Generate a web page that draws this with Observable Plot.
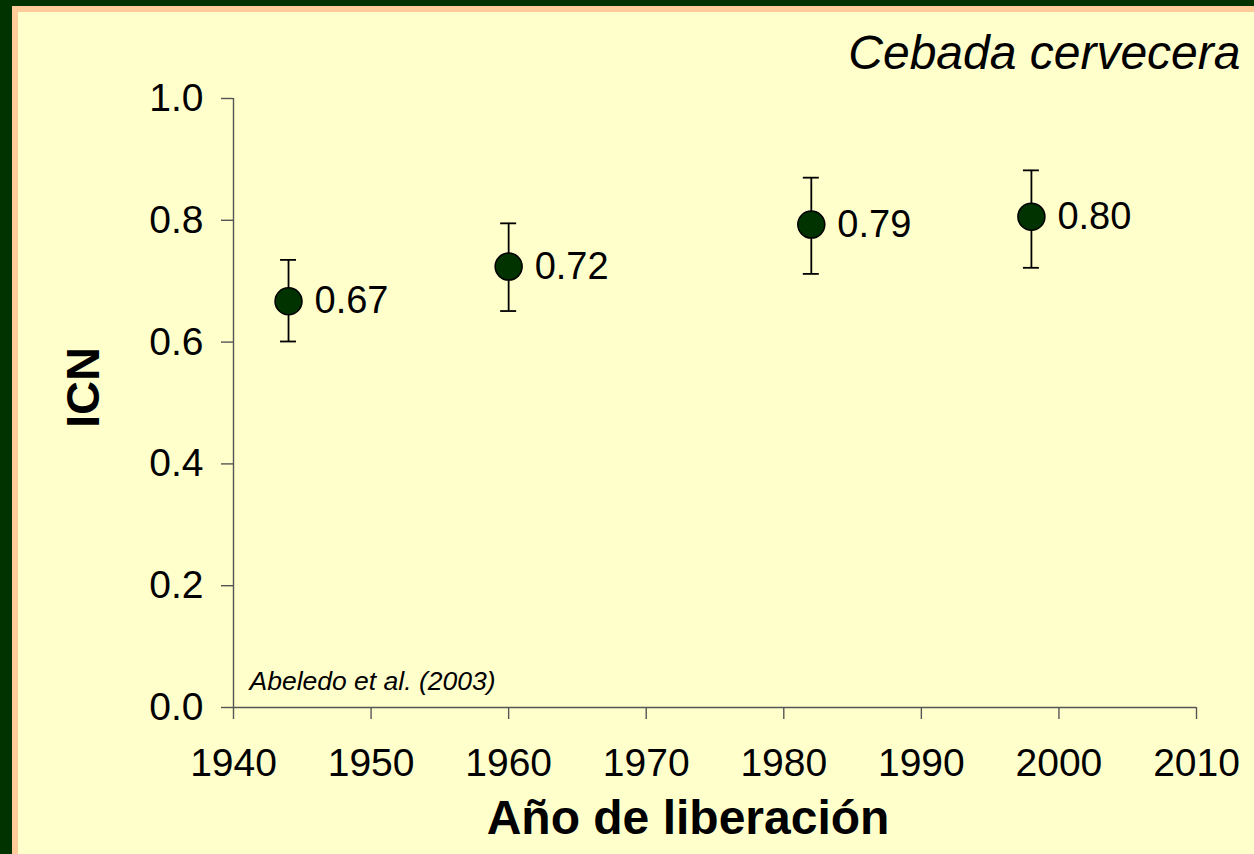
<!DOCTYPE html>
<html>
<head>
<meta charset="utf-8">
<script src="https://cdn.jsdelivr.net/npm/d3@7"></script>
<script src="https://cdn.jsdelivr.net/npm/@observablehq/plot@0.6"></script>
<style>
  html, body { margin: 0; padding: 0; width: 1254px; height: 854px; overflow: hidden; background: #003300; }
  #frame { position: absolute; left: 12px; top: 6px; right: 0; bottom: 0; background: #FFCC99; }
  #inner { position: absolute; left: 18px; top: 12px; right: 0; bottom: 0; background: #FFFFCC; }
  #chart { position: absolute; left: 0; top: 0; }
</style>
</head>
<body>
<div id="frame"></div>
<div id="inner"></div>
<div id="chart"></div>
<script>
const years  = [1944, 1960, 1982, 1998];
const icn    = [0.667, 0.724, 0.793, 0.806];
const lower  = [0.601, 0.651, 0.712, 0.722];
const upper  = [0.735, 0.795, 0.870, 0.882];
const labels = ["0.67", "0.72", "0.79", "0.80"];
const xTicks = [1940, 1950, 1960, 1970, 1980, 1990, 2000, 2010];
const yTicks = [0, 0.2, 0.4, 0.6, 0.8, 1.0];
const title = "Cebada cervecera";
const xLabel = "Año de liberación";
const yLabel = "ICN";
const citation = "Abeledo et al. (2003)";

const data = years.map((year, i) => ({year, icn: icn[i], lower: lower[i], upper: upper[i], label: labels[i]}));
const axisColor = "#555";
const font = "'Liberation Sans', Arial, sans-serif";

const chart = Plot.plot({
  width: 1254,
  height: 854,
  marginLeft: 233,
  marginRight: 58,
  marginTop: 98,
  marginBottom: 147,
  style: {background: "transparent", fontFamily: font, color: "black", overflow: "visible"},
  x: {domain: [1940, 2010]},
  y: {domain: [0, 1]},
  marks: [
    Plot.axisX({ticks: xTicks, tickFormat: "d", tickSize: 12, tickPadding: 29, fontSize: 39, stroke: axisColor, strokeWidth: 1.4, fill: "black", label: null}),
    Plot.axisY({ticks: yTicks, tickFormat: ".1f", tickSize: 12, tickPadding: 18, fontSize: 39, stroke: axisColor, strokeWidth: 1.4, fill: "black", label: null}),
    Plot.ruleX([1940], {stroke: axisColor, strokeWidth: 1.4}),
    Plot.ruleY([0], {stroke: axisColor, strokeWidth: 1.4}),
    Plot.ruleX(data, {x: "year", y1: "lower", y2: "upper", stroke: "black", strokeWidth: 1.8}),
    Plot.ruleY(data, {x1: "year", x2: "year", y: "upper", insetLeft: -8, insetRight: -8, stroke: "black", strokeWidth: 1.8}),
    Plot.ruleY(data, {x1: "year", x2: "year", y: "lower", insetLeft: -8, insetRight: -8, stroke: "black", strokeWidth: 1.8}),
    Plot.dot(data, {x: "year", y: "icn", r: 13.5, fill: "#003300", stroke: "black", strokeWidth: 1.5}),
    Plot.text(data, {x: "year", y: "icn", text: "label", textAnchor: "start", dx: 26, fontSize: 38, fill: "black"}),
    Plot.text([title], {frameAnchor: "top-right", text: d => d, dx: 44, dy: -64, fontSize: 48, fontStyle: "italic", textAnchor: "end", fill: "black"}),
    Plot.text([citation], {frameAnchor: "bottom-left", text: d => d, dx: 16, dy: -18, fontSize: 26.5, fontStyle: "italic", textAnchor: "start", fill: "black"}),
    Plot.text([xLabel], {frameAnchor: "bottom", text: d => d, dx: -27, dy: 126, fontSize: 48, fontWeight: "bold", fill: "black"}),
    Plot.text([yLabel], {frameAnchor: "left", text: d => d, dx: -150, dy: 25, rotate: -90, fontSize: 47, fontWeight: "bold", fill: "black"})
  ]
});
document.getElementById("chart").appendChild(chart);
</script>
</body>
</html>
